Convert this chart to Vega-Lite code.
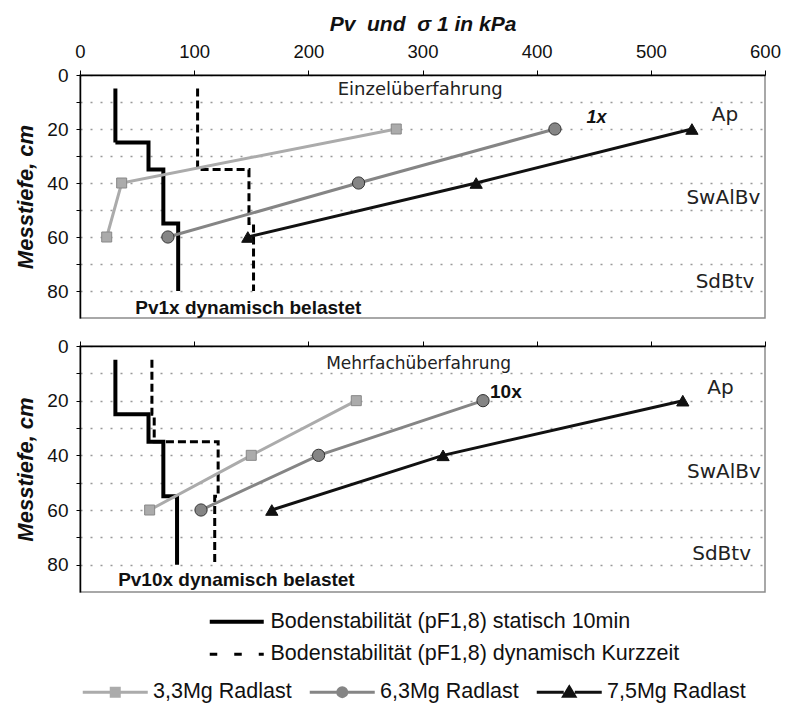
{
  "$schema": "https://vega.github.io/schema/vega-lite/v6.json",
  "background": "white",
  "padding": {"left": 14, "top": 12, "right": 0, "bottom": 0},
  "spacing": 16,
  "datasets": {
    "steps": [
      {"panel": "oben", "typ": "Bodenstabilität (pF1,8) statisch 10min", "i": 1, "v": 31, "d": 5},
      {"panel": "oben", "typ": "Bodenstabilität (pF1,8) statisch 10min", "i": 2, "v": 31, "d": 25},
      {"panel": "oben", "typ": "Bodenstabilität (pF1,8) statisch 10min", "i": 3, "v": 60, "d": 25},
      {"panel": "oben", "typ": "Bodenstabilität (pF1,8) statisch 10min", "i": 4, "v": 60, "d": 35},
      {"panel": "oben", "typ": "Bodenstabilität (pF1,8) statisch 10min", "i": 5, "v": 73, "d": 35},
      {"panel": "oben", "typ": "Bodenstabilität (pF1,8) statisch 10min", "i": 6, "v": 73, "d": 55},
      {"panel": "oben", "typ": "Bodenstabilität (pF1,8) statisch 10min", "i": 7, "v": 86, "d": 55},
      {"panel": "oben", "typ": "Bodenstabilität (pF1,8) statisch 10min", "i": 8, "v": 86, "d": 80},
      {"panel": "oben", "typ": "Bodenstabilität (pF1,8) dynamisch Kurzzeit", "i": 1, "v": 103, "d": 5},
      {"panel": "oben", "typ": "Bodenstabilität (pF1,8) dynamisch Kurzzeit", "i": 2, "v": 103, "d": 35},
      {"panel": "oben", "typ": "Bodenstabilität (pF1,8) dynamisch Kurzzeit", "i": 3, "v": 148, "d": 35},
      {"panel": "oben", "typ": "Bodenstabilität (pF1,8) dynamisch Kurzzeit", "i": 4, "v": 148, "d": 55},
      {"panel": "oben", "typ": "Bodenstabilität (pF1,8) dynamisch Kurzzeit", "i": 5, "v": 152, "d": 55},
      {"panel": "oben", "typ": "Bodenstabilität (pF1,8) dynamisch Kurzzeit", "i": 6, "v": 152, "d": 80},
      {"panel": "unten", "typ": "Bodenstabilität (pF1,8) statisch 10min", "i": 1, "v": 31, "d": 5},
      {"panel": "unten", "typ": "Bodenstabilität (pF1,8) statisch 10min", "i": 2, "v": 31, "d": 25},
      {"panel": "unten", "typ": "Bodenstabilität (pF1,8) statisch 10min", "i": 3, "v": 60, "d": 25},
      {"panel": "unten", "typ": "Bodenstabilität (pF1,8) statisch 10min", "i": 4, "v": 60, "d": 35},
      {"panel": "unten", "typ": "Bodenstabilität (pF1,8) statisch 10min", "i": 5, "v": 73, "d": 35},
      {"panel": "unten", "typ": "Bodenstabilität (pF1,8) statisch 10min", "i": 6, "v": 73, "d": 55},
      {"panel": "unten", "typ": "Bodenstabilität (pF1,8) statisch 10min", "i": 7, "v": 85, "d": 55},
      {"panel": "unten", "typ": "Bodenstabilität (pF1,8) statisch 10min", "i": 8, "v": 85, "d": 80},
      {"panel": "unten", "typ": "Bodenstabilität (pF1,8) dynamisch Kurzzeit", "i": 1, "v": 63, "d": 5},
      {"panel": "unten", "typ": "Bodenstabilität (pF1,8) dynamisch Kurzzeit", "i": 2, "v": 63, "d": 25},
      {"panel": "unten", "typ": "Bodenstabilität (pF1,8) dynamisch Kurzzeit", "i": 3, "v": 65, "d": 25},
      {"panel": "unten", "typ": "Bodenstabilität (pF1,8) dynamisch Kurzzeit", "i": 4, "v": 65, "d": 35},
      {"panel": "unten", "typ": "Bodenstabilität (pF1,8) dynamisch Kurzzeit", "i": 5, "v": 121, "d": 35},
      {"panel": "unten", "typ": "Bodenstabilität (pF1,8) dynamisch Kurzzeit", "i": 6, "v": 121, "d": 55},
      {"panel": "unten", "typ": "Bodenstabilität (pF1,8) dynamisch Kurzzeit", "i": 7, "v": 118, "d": 55},
      {"panel": "unten", "typ": "Bodenstabilität (pF1,8) dynamisch Kurzzeit", "i": 8, "v": 118, "d": 80}
    ],
    "series": [
      {"panel": "oben", "serie": "3,3Mg Radlast", "d": 20, "v": 277},
      {"panel": "oben", "serie": "3,3Mg Radlast", "d": 40, "v": 36.5},
      {"panel": "oben", "serie": "3,3Mg Radlast", "d": 60, "v": 23.4},
      {"panel": "oben", "serie": "6,3Mg Radlast", "d": 20, "v": 416},
      {"panel": "oben", "serie": "6,3Mg Radlast", "d": 40, "v": 244},
      {"panel": "oben", "serie": "6,3Mg Radlast", "d": 60, "v": 77},
      {"panel": "oben", "serie": "7,5Mg Radlast", "d": 20, "v": 536},
      {"panel": "oben", "serie": "7,5Mg Radlast", "d": 40, "v": 347},
      {"panel": "oben", "serie": "7,5Mg Radlast", "d": 60, "v": 147},
      {"panel": "unten", "serie": "3,3Mg Radlast", "d": 20, "v": 242},
      {"panel": "unten", "serie": "3,3Mg Radlast", "d": 40, "v": 150},
      {"panel": "unten", "serie": "3,3Mg Radlast", "d": 60, "v": 61},
      {"panel": "unten", "serie": "6,3Mg Radlast", "d": 20, "v": 353},
      {"panel": "unten", "serie": "6,3Mg Radlast", "d": 40, "v": 209},
      {"panel": "unten", "serie": "6,3Mg Radlast", "d": 60, "v": 106},
      {"panel": "unten", "serie": "7,5Mg Radlast", "d": 20, "v": 528},
      {"panel": "unten", "serie": "7,5Mg Radlast", "d": 40, "v": 318},
      {"panel": "unten", "serie": "7,5Mg Radlast", "d": 60, "v": 168}
    ],
    "texts": [
      {"panel": "oben", "grp": "titel", "v": 298, "d": 5.6, "t": "Einzelüberfahrung"},
      {"panel": "oben", "grp": "horizont", "v": 565, "d": 14.8, "t": "Ap"},
      {"panel": "oben", "grp": "horizont", "v": 563.5, "d": 45.6, "t": "SwAlBv"},
      {"panel": "oben", "grp": "horizont", "v": 565, "d": 76.5, "t": "SdBtv"},
      {"panel": "oben", "grp": "notiz", "v": 147.4, "d": 86.4, "t": "Pv1x dynamisch belastet"},
      {"panel": "oben", "grp": "anzahl", "v": 452.5, "d": 16, "t": "1x"},
      {"panel": "unten", "grp": "titel", "v": 296.6, "d": 6.6, "t": "Mehrfachüberfahrung"},
      {"panel": "unten", "grp": "horizont", "v": 561, "d": 15.5, "t": "Ap"},
      {"panel": "unten", "grp": "horizont", "v": 564, "d": 46.1, "t": "SwAlBv"},
      {"panel": "unten", "grp": "horizont", "v": 562, "d": 76, "t": "SdBtv"},
      {"panel": "unten", "grp": "notiz", "v": 137, "d": 85.7, "t": "Pv10x dynamisch belastet"},
      {"panel": "unten", "grp": "anzahl", "v": 373, "d": 16.9, "t": "10x"}
    ]
  },
  "config": {
    "font": "Liberation Sans",
    "view": {"stroke": "#8c8c8c", "strokeWidth": 1.5},
    "axis": {"domainColor": "#000", "tickColor": "#000", "labelColor": "#111", "titleColor": "#111", "labelFont": "Liberation Sans", "titleFont": "Liberation Sans", "labelFlush": false, "labelOverlap": false},
    "legend": {"labelFont": "Liberation Sans", "labelColor": "#111", "padding": 0, "offset": 0}
  },
  "resolve": {"scale": {"color": "shared", "strokeDash": "shared", "strokeWidth": "shared"}},
  "vconcat": [
    {
      "width": 685,
      "height": 243,
      "encoding": {
        "x": {"field": "v", "type": "quantitative", "scale": {"domain": [0, 600], "nice": false, "zero": false},
          "axis": {"orient": "top", "values": [0, 100, 200, 300, 400, 500, 600], "title": "Pv\u00a0 und\u00a0 σ 1 in kPa", "titleFontSize": 21, "titleFontWeight": "bold", "titleFontStyle": "italic", "titlePadding": 8, "labelFontSize": 18.5, "labelPadding": 9, "labelDx": 8, "tickSize": 5, "domainWidth": 1.5, "grid": false}},
        "y": {"field": "d", "type": "quantitative", "scale": {"domain": [0, 90], "reverse": true, "nice": false, "zero": false},
          "axis": {"values": [0, 10, 20, 30, 40, 50, 60, 70, 80], "labelExpr": "datum.value % 20 === 0 ? datum.label : ''", "title": "Messtiefe, cm", "titleFontSize": 22, "titleFontWeight": "bold", "titleFontStyle": "italic", "titlePadding": 9, "labelFontSize": 19, "labelPadding": 8, "tickSize": 4, "domainWidth": 1.5, "grid": true, "gridDash": [2, 8], "gridColor": "#999", "gridWidth": 1.3}}
      },
      "layer": [
        {
          "data": {"name": "steps"},
          "transform": [{"filter": "datum.panel === 'oben'"}],
          "mark": {"type": "line", "color": "#000", "strokeCap": "butt"},
          "encoding": {
            "order": {"field": "i", "type": "quantitative"},
            "strokeDash": {"field": "typ", "type": "nominal",
              "scale": {"domain": ["Bodenstabilität (pF1,8) statisch 10min", "Bodenstabilität (pF1,8) dynamisch Kurzzeit"], "range": [[1, 0], [8, 4]]},
              "legend": {"title": null, "orient": "none", "legendX": 146, "legendY": 536, "direction": "vertical", "symbolType": "M-5.4,0H5.4", "symbolSize": 100, "symbolStrokeWidth": 4, "symbolStrokeColor": "#000", "labelFontSize": 21.5, "labelOffset": 23, "rowPadding": 9.5, "labelLimit": 600,
                "encode": {"symbols": {"update": {"shape": {"signal": "indexof(datum.value, 'dynamisch') >= 0 ? 'M-5.4,0H-3.9M-0.5,0H1.0M4.4,0H5.4' : 'M-5.4,0H5.4'"}}}}}},
            "strokeWidth": {"field": "typ", "type": "nominal",
              "scale": {"domain": ["Bodenstabilität (pF1,8) statisch 10min", "Bodenstabilität (pF1,8) dynamisch Kurzzeit"], "range": [4, 3]}, "legend": null}
          }
        },
        {
          "data": {"name": "series"},
          "transform": [{"filter": "datum.panel === 'oben'"}],
          "mark": {"type": "line", "strokeWidth": 3},
          "encoding": {
            "order": {"field": "d", "type": "quantitative"},
            "color": {"field": "serie", "type": "nominal",
              "scale": {"domain": ["3,3Mg Radlast", "6,3Mg Radlast", "7,5Mg Radlast"], "range": ["#ababab", "#858585", "#111111"]},
              "legend": {"title": null, "orient": "none", "legendX": 24.5, "legendY": 606, "direction": "horizontal", "columns": 3, "columnPadding": 11, "symbolSize": 100, "labelFontSize": 21.5, "labelOffset": 27, "labelLimit": 300,
                "encode": {"symbols": {"update": {
                  "shape": {"signal": "datum.value === '3,3Mg Radlast' ? 'M-6.5,0H-1.1M1.1,0H6.5M-0.8,-0.8H0.8V0.8H-0.8Z' : (datum.value === '6,3Mg Radlast' ? 'M-6.5,0H-1.1M1.1,0H6.5M0.9,0A0.9,0.9,0,1,1,-0.9,0A0.9,0.9,0,1,1,0.9,0Z' : 'M-6.5,0H-1.1M1.1,0H6.5M0,-1L1.1,0.8H-1.1Z')"},
                  "size": {"value": 100},
                  "strokeWidth": {"value": 3},
                  "fill": {"signal": "scale('color', datum.value)"},
                  "stroke": {"signal": "scale('color', datum.value)"},
                  "opacity": {"value": 1},
                  "fillOpacity": {"value": 1},
                  "strokeOpacity": {"value": 1}
                }}}}}
          }
        },
        {
          "data": {"name": "series"},
          "transform": [{"filter": "datum.panel === 'oben' && datum.serie === '3,3Mg Radlast'"}],
          "mark": {"type": "point", "shape": "square", "size": 100, "filled": true, "stroke": "#888", "strokeWidth": 1, "opacity": 1},
          "encoding": {"color": {"field": "serie", "type": "nominal"}}
        },
        {
          "data": {"name": "series"},
          "transform": [{"filter": "datum.panel === 'oben' && datum.serie === '6,3Mg Radlast'"}],
          "mark": {"type": "point", "shape": "circle", "size": 150, "filled": true, "stroke": "#333", "strokeWidth": 1, "opacity": 1},
          "encoding": {"color": {"field": "serie", "type": "nominal"}}
        },
        {
          "data": {"name": "series"},
          "transform": [{"filter": "datum.panel === 'oben' && datum.serie === '7,5Mg Radlast'"}],
          "mark": {"type": "point", "shape": "triangle-up", "size": 150, "filled": true, "stroke": "#111", "strokeWidth": 1, "opacity": 1},
          "encoding": {"color": {"field": "serie", "type": "nominal"}}
        },
        {
          "data": {"name": "texts"},
          "transform": [{"filter": "datum.panel === 'oben' && datum.grp === 'titel'"}],
          "mark": {"type": "text", "font": "DejaVu Sans", "fontSize": 18, "color": "#222", "align": "center", "baseline": "middle"},
          "encoding": {"text": {"field": "t"}}
        },
        {
          "data": {"name": "texts"},
          "transform": [{"filter": "datum.panel === 'oben' && datum.grp === 'horizont'"}],
          "mark": {"type": "text", "font": "DejaVu Sans", "fontSize": 20, "color": "#222", "align": "center", "baseline": "middle"},
          "encoding": {"text": {"field": "t"}}
        },
        {
          "data": {"name": "texts"},
          "transform": [{"filter": "datum.panel === 'oben' && datum.grp === 'notiz'"}],
          "mark": {"type": "text", "fontSize": 19, "fontWeight": "bold", "color": "#111", "align": "center", "baseline": "middle"},
          "encoding": {"text": {"field": "t"}}
        },
        {
          "data": {"name": "texts"},
          "transform": [{"filter": "datum.panel === 'oben' && datum.grp === 'anzahl'"}],
          "mark": {"type": "text", "fontSize": 18, "fontWeight": "bold", "fontStyle": "italic", "color": "#111", "align": "center", "baseline": "middle"},
          "encoding": {"text": {"field": "t"}}
        }
      ]
    },
    {
      "width": 685,
      "height": 246,
      "encoding": {
        "x": {"field": "v", "type": "quantitative", "scale": {"domain": [0, 600], "nice": false, "zero": false},
          "axis": {"orient": "top", "values": [0, 100, 200, 300, 400, 500, 600], "title": null, "labels": false, "tickSize": 5, "domainWidth": 1.5, "grid": false}},
        "y": {"field": "d", "type": "quantitative", "scale": {"domain": [0, 90], "reverse": true, "nice": false, "zero": false},
          "axis": {"values": [0, 10, 20, 30, 40, 50, 60, 70, 80], "labelExpr": "datum.value % 20 === 0 ? datum.label : ''", "title": "Messtiefe, cm", "titleFontSize": 22, "titleFontWeight": "bold", "titleFontStyle": "italic", "titlePadding": 9, "labelFontSize": 19, "labelPadding": 8, "tickSize": 4, "domainWidth": 1.5, "grid": true, "gridDash": [2, 8], "gridColor": "#999", "gridWidth": 1.3}}
      },
      "layer": [
        {
          "data": {"name": "steps"},
          "transform": [{"filter": "datum.panel === 'unten'"}],
          "mark": {"type": "line", "color": "#000", "strokeCap": "butt"},
          "encoding": {
            "order": {"field": "i", "type": "quantitative"},
            "strokeDash": {"field": "typ", "type": "nominal"},
            "strokeWidth": {"field": "typ", "type": "nominal", "legend": null}
          }
        },
        {
          "data": {"name": "series"},
          "transform": [{"filter": "datum.panel === 'unten'"}],
          "mark": {"type": "line", "strokeWidth": 3},
          "encoding": {
            "order": {"field": "d", "type": "quantitative"},
            "color": {"field": "serie", "type": "nominal"}
          }
        },
        {
          "data": {"name": "series"},
          "transform": [{"filter": "datum.panel === 'unten' && datum.serie === '3,3Mg Radlast'"}],
          "mark": {"type": "point", "shape": "square", "size": 100, "filled": true, "stroke": "#888", "strokeWidth": 1, "opacity": 1},
          "encoding": {"color": {"field": "serie", "type": "nominal"}}
        },
        {
          "data": {"name": "series"},
          "transform": [{"filter": "datum.panel === 'unten' && datum.serie === '6,3Mg Radlast'"}],
          "mark": {"type": "point", "shape": "circle", "size": 150, "filled": true, "stroke": "#333", "strokeWidth": 1, "opacity": 1},
          "encoding": {"color": {"field": "serie", "type": "nominal"}}
        },
        {
          "data": {"name": "series"},
          "transform": [{"filter": "datum.panel === 'unten' && datum.serie === '7,5Mg Radlast'"}],
          "mark": {"type": "point", "shape": "triangle-up", "size": 150, "filled": true, "stroke": "#111", "strokeWidth": 1, "opacity": 1},
          "encoding": {"color": {"field": "serie", "type": "nominal"}}
        },
        {
          "data": {"name": "texts"},
          "transform": [{"filter": "datum.panel === 'unten' && datum.grp === 'titel'"}],
          "mark": {"type": "text", "font": "DejaVu Sans", "fontSize": 17, "color": "#222", "align": "center", "baseline": "middle"},
          "encoding": {"text": {"field": "t"}}
        },
        {
          "data": {"name": "texts"},
          "transform": [{"filter": "datum.panel === 'unten' && datum.grp === 'horizont'"}],
          "mark": {"type": "text", "font": "DejaVu Sans", "fontSize": 20, "color": "#222", "align": "center", "baseline": "middle"},
          "encoding": {"text": {"field": "t"}}
        },
        {
          "data": {"name": "texts"},
          "transform": [{"filter": "datum.panel === 'unten' && (datum.grp === 'notiz' || datum.grp === 'anzahl')"}],
          "mark": {"type": "text", "fontSize": 19, "fontWeight": "bold", "color": "#111", "align": "center", "baseline": "middle"},
          "encoding": {"text": {"field": "t"}}
        }
      ]
    }
  ]
}
